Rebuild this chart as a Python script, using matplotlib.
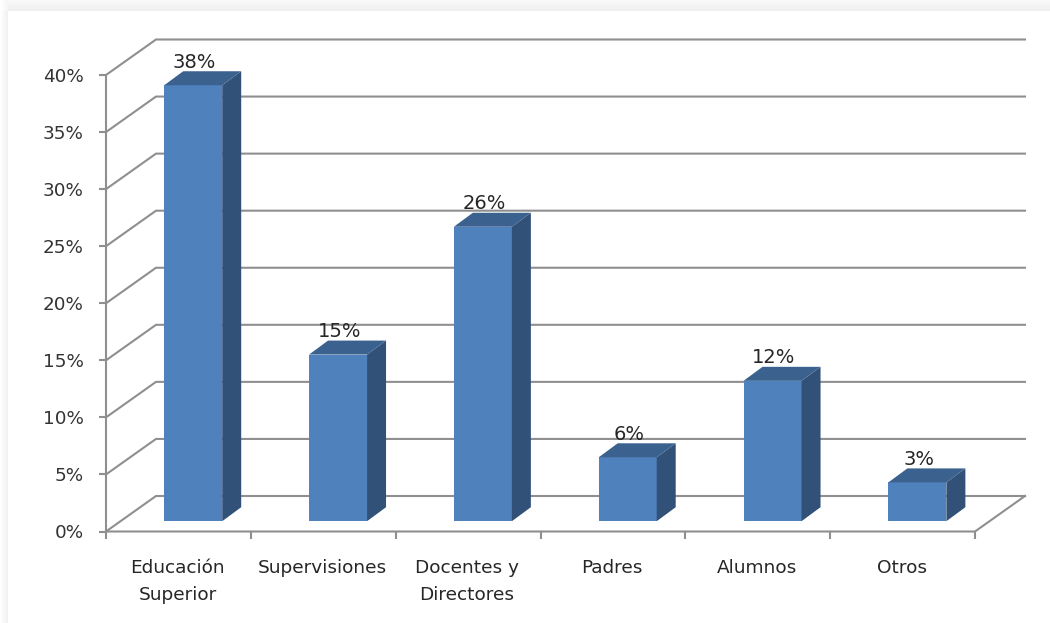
import matplotlib
matplotlib.use("Agg")
import matplotlib.pyplot as plt
import numpy as np
from matplotlib.patches import Polygon, Rectangle

categories = ["Educación\nSuperior", "Supervisiones", "Docentes y\nDirectores", "Padres", "Alumnos", "Otros"]
values = [38.2, 14.6, 25.8, 5.6, 12.3, 3.4]
y_ticks = [0, 5, 10, 15, 20, 25, 30, 35, 40]

W, H = 1050, 623
fig = plt.figure(figsize=(W / 100, H / 100), dpi=100, facecolor="white")
plt.rcParams["font.family"] = ["DejaVu Sans"]

# soft shaded border around the white card
bg = fig.add_axes([0, 0, 1, 1])
bg.set_axis_off()
shade = np.ones((H, W))
shade[:11, :] = np.linspace(0.975, 0.935, 11)[:, None]
shade[:, :8] = np.minimum(shade[:, :8], np.linspace(1.0, 0.945, 8)[None, :])
shade[:11, :8] = np.linspace(1.0, 0.96, 8)[None, :]
bg.imshow(shade, cmap="gray", vmin=0, vmax=1, aspect="auto", interpolation="nearest")

# plot axes: front floor edge spans the six categories
L, R, Y0, Y40 = 106, 975, 531.5, 75
ax = fig.add_axes([L / W, 1 - Y0 / H, (R - L) / W, (Y0 - Y40) / H])
ax.set_xlim(0, 6)
ax.set_ylim(0, 40)
ax.patch.set_alpha(0)
for s in ax.spines.values():
    s.set_visible(False)

# depth of the 3D box in data units
DX = 50 / ((R - L) / 6)
DY = 35.5 / ((Y0 - Y40) / 40)
GRID = "#8f8f8f"
LW = 1.5

for t in y_ticks:
    ax.plot([0, DX, 6 + DX], [t, t + DY, t + DY], color=GRID, lw=LW, clip_on=False, zorder=1, solid_joinstyle="miter")
ax.plot([0, 0], [0, 40], color=GRID, lw=LW, clip_on=False, zorder=1)
ax.plot([0, 6, 6 + DX], [0, 0, DY], color=GRID, lw=LW, clip_on=False, zorder=1)

# bars
bar_w = 58 / ((R - L) / 6)
frac = 0.29
side_dx = 19 / ((R - L) / 6)
side_dy = 14 / ((Y0 - Y40) / 40)
for i, v in enumerate(values):
    x0 = i + 0.5 - bar_w / 2 + frac * DX + 0.002
    y0 = frac * DY
    top = y0 + v
    ax.add_patch(Rectangle((x0, y0), bar_w, v, fc="#4f81bd", ec="none", zorder=3, clip_on=False))
    ax.add_patch(Polygon([(x0 + bar_w, y0), (x0 + bar_w + side_dx, y0 + side_dy),
                          (x0 + bar_w + side_dx, top + side_dy), (x0 + bar_w, top)],
                         fc="#315178", ec="none", zorder=3, clip_on=False))
    ax.add_patch(Polygon([(x0, top), (x0 + side_dx, top + side_dy),
                          (x0 + bar_w + side_dx, top + side_dy), (x0 + bar_w, top)],
                         fc="#3b618f", ec="none", zorder=3, clip_on=False))
    ax.text(x0 + bar_w / 2 + 0.01, top + side_dy - 0.05, f"{v:.0f}%", ha="center", va="bottom",
            fontsize=14, color="#262626", zorder=4, clip_on=False)

ax.set_yticks(y_ticks)
ax.set_yticklabels([f"{t}%" for t in y_ticks])
ax.set_xticks(range(7))
ax.set_xticklabels([""] * 7)
ax.tick_params(axis="both", color=GRID, width=LW, length=5, labelsize=13.2, labelcolor="#333333")
ax.tick_params(axis="y", pad=11)
for i, c in enumerate(categories):
    ax.annotate(c, (i + 0.5, 0), xytext=(-0.7, -20), textcoords="offset points", ha="center", va="top",
                fontsize=13.3, color="#262626", linespacing=1.62, annotation_clip=False)

fig.savefig("out.png", dpi=100, facecolor=fig.get_facecolor())
